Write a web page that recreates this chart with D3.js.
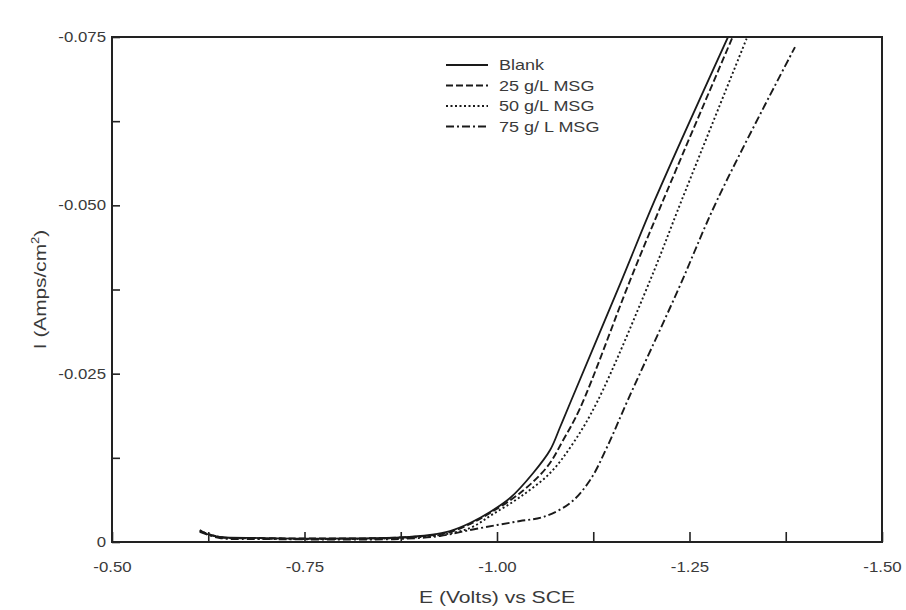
<!DOCTYPE html>
<html>
<head>
<meta charset="utf-8">
<script src="https://cdn.jsdelivr.net/npm/d3@7"></script>
<style>
  body { margin: 0; background: #fff; }
  text { font-family: "Liberation Sans", Arial, sans-serif; fill: #3a3a3a; }
</style>
</head>
<body>
<script>
var w = 906;
var h = 610;
var margin = {top: 37, right: 24, bottom: 68, left: 112};

// E (volts vs SCE) and I (Amps/cm2)
var seriesNames = ["Blank", "25 g/L MSG", "50 g/L MSG", "75 g/ L MSG"];

var blankE = [-0.614, -0.623, -0.640, -0.692, -0.809, -0.874, -0.913, -0.939, -0.965, -0.991, -1.017, -1.047, -1.069, -1.082, -1.095, -1.162, -1.205, -1.300];
var blankI = [-0.00178, -0.00119, -0.00074, -0.00059, -0.00052, -0.00067, -0.00104, -0.00163, -0.00282, -0.00446, -0.00653, -0.01025, -0.01366, -0.01708, -0.02064, -0.0389, -0.0508, -0.0750];

var msg25E = [-0.614, -0.640, -0.692, -0.809, -0.874, -0.913, -0.939, -0.965, -0.991, -1.030, -1.065, -1.086, -1.108, -1.173, -1.216, -1.306];
var msg25I = [-0.00163, -0.00074, -0.00059, -0.00052, -0.00067, -0.00097, -0.00149, -0.00267, -0.00431, -0.00728, -0.01114, -0.01515, -0.0199, -0.0389, -0.0508, -0.0750];

var msg50E = [-0.614, -0.640, -0.692, -0.809, -0.874, -0.926, -0.965, -0.995, -1.030, -1.069, -1.099, -1.130, -1.199, -1.240, -1.325];
var msg50I = [-0.00163, -0.00074, -0.00052, -0.00045, -0.00059, -0.00104, -0.00208, -0.00416, -0.00668, -0.01025, -0.0147, -0.02079, -0.0389, -0.0508, -0.0750];

var msg75E = [-0.614, -0.640, -0.692, -0.809, -0.874, -0.926, -0.965, -1.000, -1.030, -1.060, -1.095, -1.121, -1.143, -1.170, -1.235, -1.286, -1.387];
var msg75I = [-0.00149, -0.00059, -0.00045, -0.00037, -0.00045, -0.00089, -0.00178, -0.00252, -0.00312, -0.00371, -0.00579, -0.00921, -0.01411, -0.0211, -0.0374, -0.0508, -0.0735];

var dashes = [null, "7,3", "2,2.5", "8,3,2,3"];

var xTicks = [-0.5, -0.625, -0.75, -0.875, -1.0, -1.125, -1.25, -1.375, -1.5];
var xLabels = ["-0.50", "", "-0.75", "", "-1.00", "", "-1.25", "", "-1.50"];
var yTicks = [0, -0.0125, -0.025, -0.0375, -0.05, -0.0625, -0.075];
var yLabels = ["0", "", "-0.025", "", "-0.050", "", "-0.075"];

var svg = d3.select("body").append("svg")
            .attr("width", w)
            .attr("height", h);

var x = d3.scaleLinear().domain([-0.5, -1.5]).range([margin.left, w - margin.right]);
var y = d3.scaleLinear().domain([0, -0.075]).range([h - margin.bottom, margin.top]);

var series = [
  {name: seriesNames[0], E: blankE, I: blankI},
  {name: seriesNames[1], E: msg25E, I: msg25I},
  {name: seriesNames[2], E: msg50E, I: msg50I},
  {name: seriesNames[3], E: msg75E, I: msg75I}
];

// the scanned lettering is wider than the font, stretch it a bit
function stretch(sel, k) {
  sel.each(function() {
    var len = this.getComputedTextLength();
    if (len > 0) {
      d3.select(this).attr("textLength", len * k).attr("lengthAdjust", "spacingAndGlyphs");
    }
  });
}

svg.append("clipPath").attr("id", "plotclip")
  .append("rect")
  .attr("x", x(-0.5)).attr("y", y(-0.075))
  .attr("width", x(-1.5) - x(-0.5)).attr("height", y(0) - y(-0.075));

var line = d3.line()
  .x(function(d) { return x(d[0]); })
  .y(function(d) { return y(d[1]); })
  .curve(d3.curveCatmullRom.alpha(0.5));

svg.append("g").attr("clip-path", "url(#plotclip)")
  .selectAll("path")
  .data(series)
  .enter()
  .append("path")
  .attr("d", function(s) { return line(s.E.map(function(e, i) { return [e, s.I[i]]; })); })
  .attr("fill", "none")
  .attr("stroke", "#1a1a1a")
  .attr("stroke-width", function(s, i) { return i == 0 ? 1.8 : 1.9; })
  .attr("stroke-dasharray", function(s, i) { return dashes[i]; });

// axes with inward ticks
var xAxis = d3.axisBottom(x).tickValues(xTicks).tickSizeInner(-10).tickSizeOuter(0).tickPadding(20)
  .tickFormat(function(d, i) { return xLabels[i]; });
var gx = svg.append("g").attr("transform", "translate(0," + y(0) + ")").call(xAxis);
gx.select(".domain").remove();
gx.selectAll("line").attr("stroke", "#222").attr("stroke-width", 1.6);
gx.selectAll("text").attr("font-size", 14).style("fill", "#3a3a3a").call(stretch, 1.2);

var yAxis = d3.axisLeft(y).tickValues(yTicks).tickSizeInner(-8).tickSizeOuter(0).tickPadding(6)
  .tickFormat(function(d, i) { return yLabels[i]; });
var gy = svg.append("g").attr("transform", "translate(" + x(-0.5) + ",0)").call(yAxis);
gy.select(".domain").remove();
gy.selectAll("line").attr("stroke", "#222").attr("stroke-width", 1.6);
gy.selectAll("text").attr("font-size", 14).style("fill", "#3a3a3a").call(stretch, 1.2);

// frame
svg.append("rect")
  .attr("x", x(-0.5)).attr("y", y(-0.075))
  .attr("width", x(-1.5) - x(-0.5)).attr("height", y(0) - y(-0.075))
  .attr("fill", "none").attr("stroke", "#222").attr("stroke-width", 2);

// axis titles
svg.append("text")
  .attr("x", (x(-0.5) + x(-1.5)) / 2).attr("y", 603)
  .attr("text-anchor", "middle").attr("font-size", 16)
  .text("E (Volts) vs SCE")
  .call(stretch, 1.32);

var yt = svg.append("text")
  .attr("transform", "translate(46," + ((y(0) + y(-0.075)) / 2) + ") rotate(-90) scale(1.3,1)")
  .attr("text-anchor", "middle").attr("font-size", 16);
yt.append("tspan").text("I (Amps/cm");
yt.append("tspan").attr("font-size", 10).attr("dy", -7).text("2");
yt.append("tspan").attr("dy", 7).text(")");

// legend
var legend = svg.append("g").selectAll("g")
  .data(series)
  .enter()
  .append("g")
  .attr("transform", function(d, i) { return "translate(446," + (65 + i * 20.5) + ")"; });
legend.append("line")
  .attr("x1", 0).attr("x2", 42).attr("y1", 0).attr("y2", 0)
  .attr("stroke", "#1a1a1a").attr("stroke-width", 1.8)
  .attr("stroke-dasharray", function(d, i) { return dashes[i]; });
legend.append("text")
  .attr("x", 53).attr("y", 5)
  .attr("font-size", 15)
  .text(function(d) { return d.name; })
  .call(stretch, 1.2);
</script>
</body>
</html>
